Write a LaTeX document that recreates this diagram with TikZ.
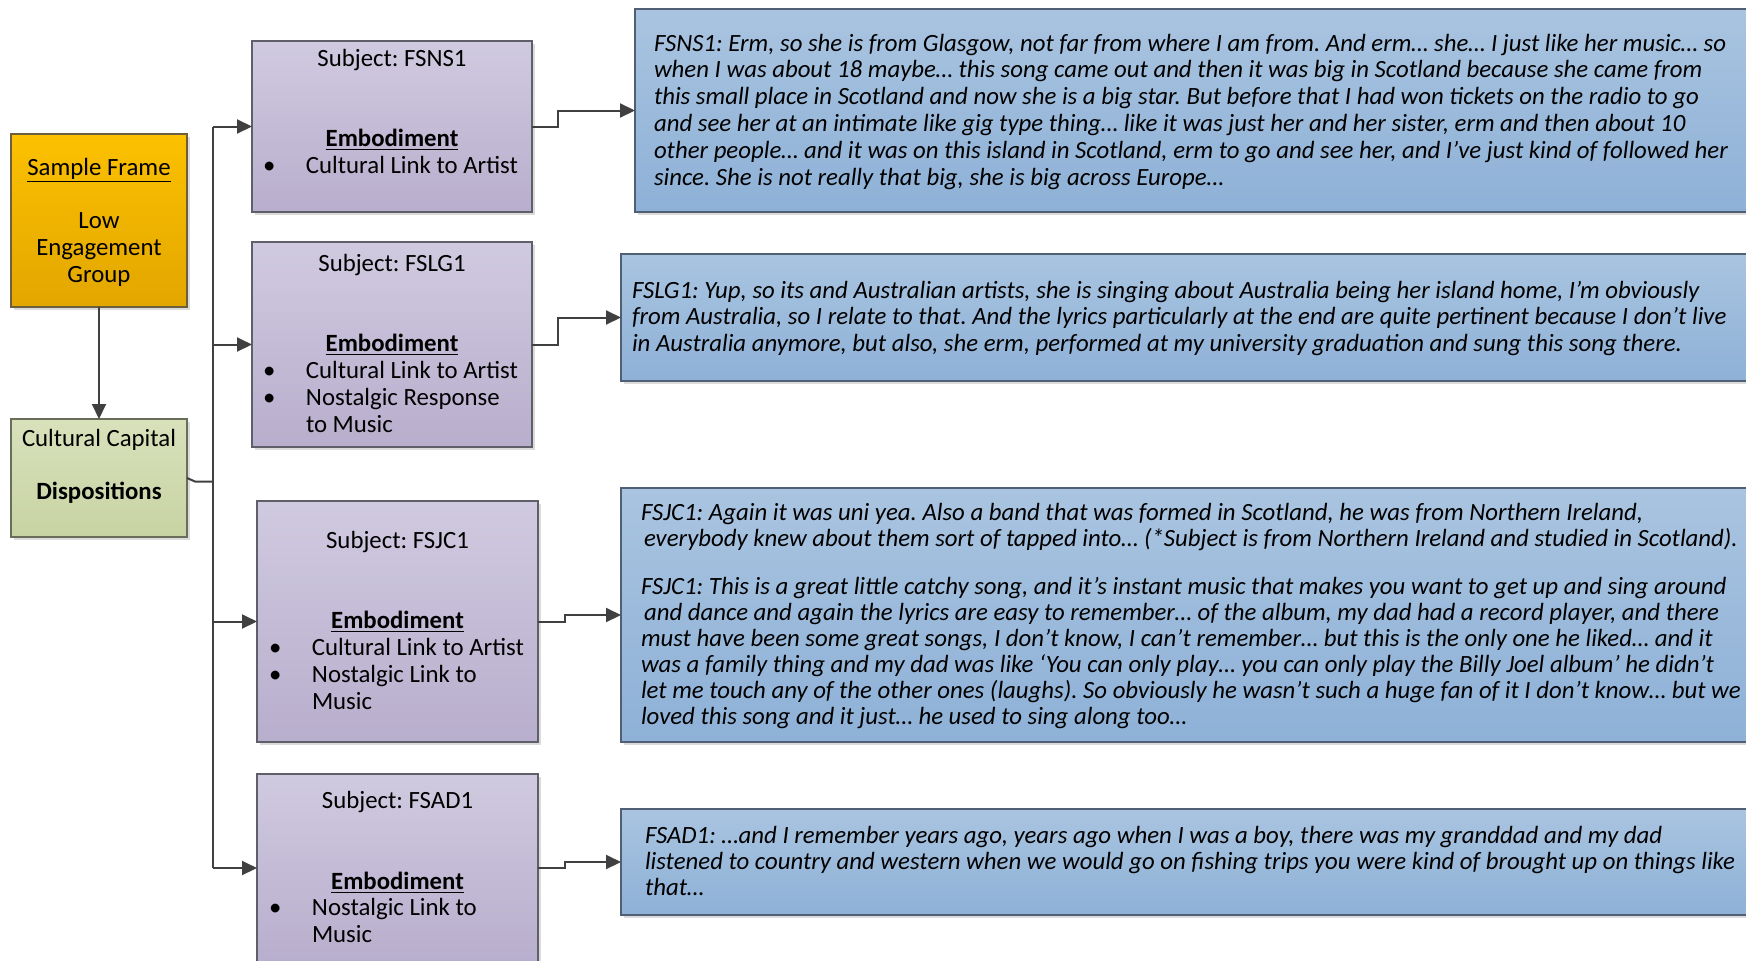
\documentclass[tikz,border=0pt]{standalone}
\usepackage{fontspec}
\setmainfont{Carlito}
\usetikzlibrary{arrows.meta,shadows}
\frenchspacing

\definecolor{sftop}{RGB}{252,193,0}
\definecolor{sfbot}{RGB}{226,166,0}
\definecolor{sfline}{RGB}{110,95,60}
\definecolor{cctop}{RGB}{216,225,187}
\definecolor{ccbot}{RGB}{200,211,163}
\definecolor{ccline}{RGB}{105,110,90}
\definecolor{subjtop}{RGB}{208,202,224}
\definecolor{subjbot}{RGB}{184,174,205}
\definecolor{subjline}{RGB}{95,95,105}
\definecolor{quotetop}{RGB}{169,196,224}
\definecolor{quotebot}{RGB}{142,177,215}
\definecolor{quoteline}{RGB}{80,95,115}
\definecolor{linkcol}{RGB}{64,64,64}

% bullet column for the lists in the subject boxes
\newcommand\listmark{\makebox[21.5pt][l]{\textbullet}}
\newcommand\listgap{\hspace*{21.5pt}}

\begin{document}
\begin{tikzpicture}[x=0.5pt,y=-0.5pt,
  every node/.style={inner sep=0pt,outer sep=0pt},
  shadowed/.style={drop shadow={shadow xshift=1.5pt,shadow yshift=-1.5pt,fill=black,opacity=0.14}},
  panel/.style={anchor=north west,line width=0.7pt,shadowed},
  sfbox/.style={panel,draw=sfline,top color=sftop,bottom color=sfbot},
  ccbox/.style={panel,draw=ccline,top color=cctop,bottom color=ccbot},
  subjbox/.style={panel,draw=subjline,top color=subjtop,bottom color=subjbot},
  quotebox/.style={panel,draw=quoteline,top color=quotetop,bottom color=quotebot},
  link/.style={draw=linkcol,line width=1pt},
  arrowlink/.style={link,-{Triangle[length=7.5pt,width=7pt]}},
  lbl/.style={font=\fontsize{12.4}{13.35}\selectfont,anchor=base},
  lbllist/.style={font=\fontsize{12.4}{13.3}\selectfont,align=left,anchor=base west},
  quote/.style={font=\fontsize{12.4}{#1}\selectfont\itshape,align=left,anchor=base west},
]
\useasboundingbox (0,0) rectangle (1746,960);
\clip (0,0) rectangle (1746,960);

% ---------- boxes ----------
\node[sfbox,minimum width=88pt,minimum height=86.5pt] (sf) at (11,134) {};
\node[ccbox,minimum width=88pt,minimum height=59pt] (cc) at (11,419) {};

\node[subjbox,minimum width=140pt,minimum height=85.5pt] (p1) at (252,41) {};
\node[subjbox,minimum width=140pt,minimum height=102.5pt] (p2) at (252,242) {};
\node[subjbox,minimum width=140.5pt,minimum height=120.5pt] (p3) at (257,501) {};
\node[subjbox,minimum width=140.5pt,minimum height=94pt] (p4) at (257,774) {};

\node[quotebox,minimum width=570pt,minimum height=101.5pt] (b1) at (635,9) {};
\node[quotebox,minimum width=580pt,minimum height=63.5pt] (b2) at (621,254) {};
\node[quotebox,minimum width=580pt,minimum height=127pt] (b3) at (621,488) {};
\node[quotebox,minimum width=580pt,minimum height=53pt] (b4) at (621,809) {};

% ---------- left column texts (multi-line nodes sit on their last baseline) ----------
\node[lbl] (sft) at (99,175) {\underline{Sample Frame}};
\node[lbl,align=center,font=\fontsize{12.4}{13.5}\selectfont] (sfg) at (99,282) {Low\\Engagement\\Group};
\node[lbl] (cct) at (99,446) {Cultural Capital};
\node[lbl] (ccd) at (99,499) {\textbf{Dispositions}};

% ---------- subject boxes ----------
\node[lbl] (p1t) at (392,66) {Subject: FSNS1};
\node[lbl] (p1e) at (392,146) {\textbf{\underline{Embodiment}}};
\node[lbllist] (p1l) at (263,173) {\listmark Cultural Link to Artist};

\node[lbl] (p2t) at (392,271) {Subject: FSLG1};
\node[lbl] (p2e) at (392,351) {\textbf{\underline{Embodiment}}};
\node[lbllist] (p2l) at (263,432) {\listmark Cultural Link to Artist\\\listmark Nostalgic Response\\\listgap to Music};

\node[lbl] (p3t) at (397.5,548) {Subject: FSJC1};
\node[lbl] (p3e) at (397.5,628) {\textbf{\underline{Embodiment}}};
\node[lbllist,font=\fontsize{12.4}{13.5}\selectfont] (p3l) at (269,709) {\listmark Cultural Link to Artist\\\listmark Nostalgic Link to\\\listgap Music};

\node[lbl] (p4t) at (397.5,808) {Subject: FSAD1};
\node[lbl] (p4e) at (397.5,889) {\textbf{\underline{Embodiment}}};
\node[lbllist] (p4l) at (269,942) {\listmark Nostalgic Link to\\\listgap Music};

% ---------- quotations ----------
\node[quote=13.4pt] (b1q) at (654,185) {FSNS1: Erm, so she is from Glasgow, not far from where I am from. And erm… she… I just like her music… so\\
when I was about 18 maybe… this song came out and then it was big in Scotland because she came from\\
this small place in Scotland and now she is a big star. But before that I had won tickets on the radio to go\\
and see her at an intimate like gig type thing… like it was just her and her sister, erm and then about 10\\
other people… and it was on this island in Scotland, erm to go and see her, and I’ve just kind of followed her\\
since. She is not really that big, she is big across Europe…};

\node[quote=13.25pt] (b2q) at (632,351) {FSLG1: Yup, so its and Australian artists, she is singing about Australia being her island home, I’m obviously\\
from Australia, so I relate to that. And the lyrics particularly at the end are quite pertinent because I don’t live\\
in Australia anymore, but also, she erm, performed at my university graduation and sung this song there.};

\node[quote=13pt] (b3q) at (641,724) {FSJC1: Again it was uni yea. Also a band that was formed in Scotland, he was from Northern Ireland,\\
\hspace*{1.5pt}everybody knew about them sort of tapped into… (*Subject is from Northern Ireland and studied in Scotland).\\[11pt]
FSJC1: This is a great little catchy song, and it's instant music that makes you want to get up and sing around\\
\hspace*{1.5pt}and dance and again the lyrics are easy to remember… of the album, my dad had a record player, and there\\
must have been some great songs, I don’t know, I can’t remember… but this is the only one he liked… and it\\
was a family thing and my dad was like ‘You can only play… you can only play the Billy Joel album’ he didn’t\\
let me touch any of the other ones (laughs). So obviously he wasn’t such a huge fan of it I don’t know… but we\\
loved this song and it just… he used to sing along too…};

\node[quote=13pt] (b4q) at (645,895) {FSAD1: …and I remember years ago, years ago when I was a boy, there was my granddad and my dad\\
listened to country and western when we would go on fishing trips you were kind of brought up on things like\\
that…};

% ---------- connectors ----------
\coordinate (tj) at (213,481.5);
\draw[arrowlink] (sf.south) -- (cc.north);
\draw[link] (cc.east) -- ++(8,3.5) -- (tj);
\draw[link] (p1.west -| tj) -- (p4.west -| tj);
\foreach \p in {p1,p2,p3,p4}
  \draw[arrowlink] (\p.west -| tj) -- (\p.west);

\draw[arrowlink] (p1.east) -- ++(26,0) |- (b1.west);
\draw[arrowlink] (p2.east) -- ++(26,0) |- (b2.west);
\draw[arrowlink] (p3.east) -- ++(27,0) |- (b3.west);
\draw[arrowlink] (p4.east) -- ++(27,0) |- (b4.west);
\end{tikzpicture}
\end{document}
